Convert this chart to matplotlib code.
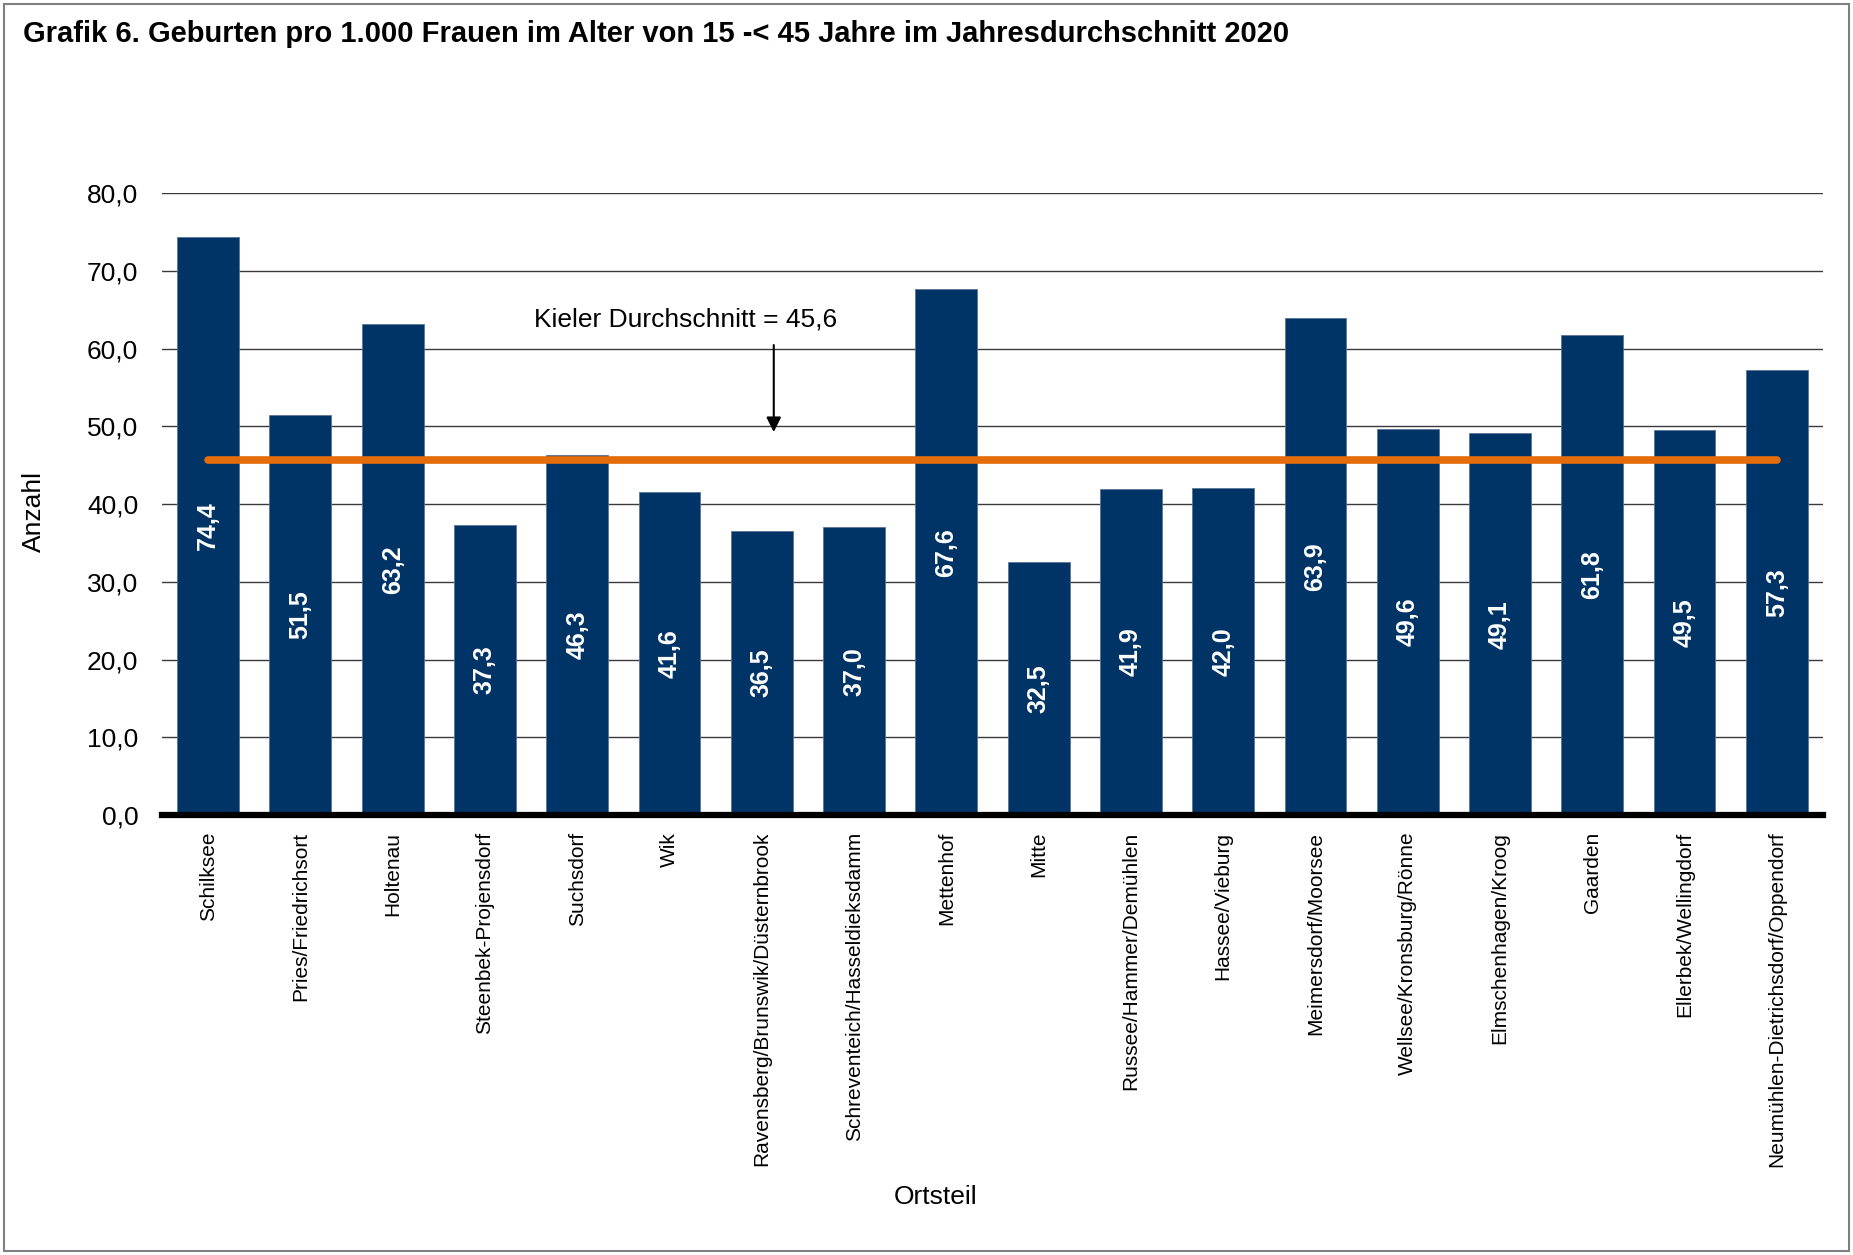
import matplotlib

matplotlib.use("Agg")
import matplotlib.pyplot as plt
import numpy as np

plt.rcParams["font.family"] = ["Liberation Sans", "DejaVu Sans"]

TITLE = "Grafik 6. Geburten pro 1.000 Frauen im Alter von 15 -< 45 Jahre im Jahresdurchschnitt 2020"

districts = [
    "Schilksee",
    "Pries/Friedrichsort",
    "Holtenau",
    "Steenbek-Projensdorf",
    "Suchsdorf",
    "Wik",
    "Ravensberg/Brunswik/Düsternbrook",
    "Schreventeich/Hasseldieksdamm",
    "Mettenhof",
    "Mitte",
    "Russee/Hammer/Demühlen",
    "Hassee/Vieburg",
    "Meimersdorf/Moorsee",
    "Wellsee/Kronsburg/Rönne",
    "Elmschenhagen/Kroog",
    "Gaarden",
    "Ellerbek/Wellingdorf",
    "Neumühlen-Dietrichsdorf/Oppendorf",
]
births_per_1000 = [
    74.4, 51.5, 63.2, 37.3, 46.3, 41.6, 36.5, 37.0, 67.6,
    32.5, 41.9, 42.0, 63.9, 49.6, 49.1, 61.8, 49.5, 57.3,
]
kiel_average = 45.6
y_ticks = [0, 10, 20, 30, 40, 50, 60, 70, 80]

BAR_COLOR = "#003366"
LINE_COLOR = "#E46C0A"


def fmt_de(v: float) -> str:
    return f"{v:.1f}".replace(".", ",")


fig = plt.figure(figsize=(18.53, 12.55), dpi=100)
ax = fig.add_axes([0.0874, 0.3506, 0.8964, 0.4956])

x = np.arange(len(districts))
bars = ax.bar(x, births_per_1000, width=0.67, color=BAR_COLOR, edgecolor="#5a7593",
              linewidth=0.6, zorder=2)

# value labels in the middle of each bar
for rect, v in zip(bars, births_per_1000):
    ax.text(rect.get_x() + rect.get_width() / 2, v / 2, fmt_de(v), rotation=90,
            ha="center", va="center", color="white", fontsize=18, fontweight="bold", zorder=4)

# Kiel average line + callout
ax.plot([x[0], x[-1]], [kiel_average, kiel_average], color=LINE_COLOR, lw=5.5,
        solid_capstyle="round", zorder=3)
ax.annotate("", xy=(6.13, 48.9), xytext=(6.13, 60.8),
            arrowprops=dict(arrowstyle="-|>", color="black", lw=1.5, mutation_scale=22), zorder=5)
ax.text(5.17, 63.7, f"Kieler Durchschnitt = {fmt_de(kiel_average)}", ha="center", va="center",
        fontsize=19, zorder=5)

ax.set_xlim(-0.5, len(districts) - 0.5)
ax.set_ylim(0, 80)
ax.set_yticks(y_ticks)
ax.set_yticklabels([fmt_de(t) for t in y_ticks], fontsize=19)
ax.set_xticks(x)
ax.set_xticklabels(districts, rotation=90, fontsize=15)
ax.tick_params(axis="both", length=0)
ax.tick_params(axis="y", pad=17)
ax.tick_params(axis="x", pad=12)

ax.yaxis.grid(True, color="#3a3a3a", lw=1.0, zorder=0)
ax.set_axisbelow(True)
for side in ("top", "right", "left"):
    ax.spines[side].set_visible(False)
ax.spines["bottom"].set_linewidth(4.5)
ax.spines["bottom"].set_color("black")
ax.spines["bottom"].set_zorder(6)

fig.text(34 / 1853, 1 - 512 / 1255, "Anzahl", rotation=90, ha="center", va="center", fontsize=19)
fig.text(936 / 1853, 1 - 1197 / 1255, "Ortsteil", ha="center", va="center", fontsize=19)
fig.text(23 / 1853, 1 - 42 / 1255, TITLE, ha="left", va="baseline", fontsize=21, fontweight="bold")

# grey frame around the whole chart
frame = plt.Rectangle((4 / 1853, 4 / 1255), 1 - 8 / 1853, 1 - 8 / 1255, transform=fig.transFigure,
                      fill=False, edgecolor="#808080", lw=1.5)
fig.patches.append(frame)

fig.savefig("out.png", dpi=100)
